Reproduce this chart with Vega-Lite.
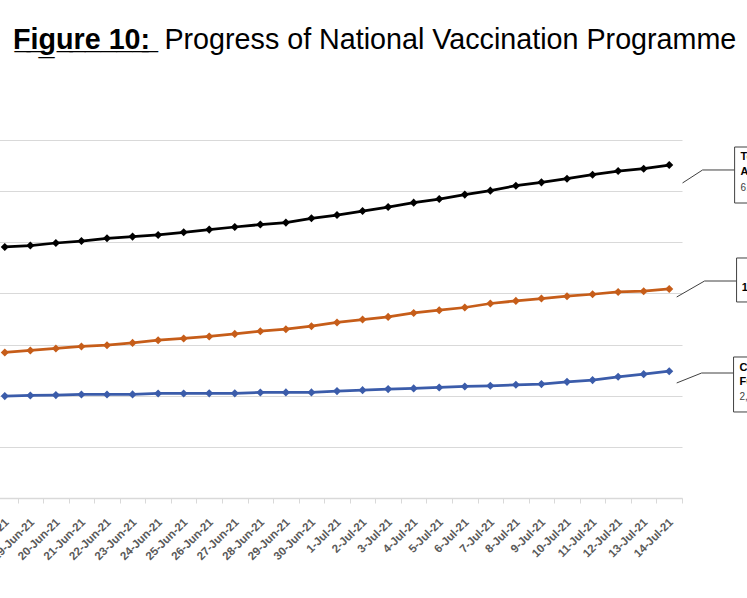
{
  "$schema": "https://vega.github.io/schema/vega-lite/v6.json",
  "width": 690,
  "height": 358,
  "autosize": {"type": "none"},
  "padding": {"left": -8, "top": 140, "right": 65, "bottom": 100},
  "background": "white",
  "title": {
    "text": "F\u0332i\u0332g\u0332u\u0332r\u0332e\u0332 \u03321\u03320\u0332:\u0332",
    "subtitle": "\u200b\u00a0\u00a0\u00a0\u00a0\u00a0\u00a0\u00a0\u00a0\u00a0\u00a0\u00a0\u00a0\u00a0\u00a0\u00a0\u00a0\u00a0\u00a0\u00a0Progress of National Vaccination Programme",
    "anchor": "start",
    "frame": "group",
    "dx": 21,
    "offset": 80,
    "font": "Liberation Sans",
    "fontSize": 28.7,
    "fontWeight": "bold",
    "color": "#000000",
    "subtitleFont": "Liberation Sans",
    "subtitleFontSize": 28.7,
    "subtitleFontWeight": "normal",
    "subtitleColor": "#000000",
    "subtitlePadding": -28.7
  },
  "datasets": {
    "progress": [
      {"date": "2021-06-18T00:00:00", "total": 4908000, "first": 2846000, "second": 1992000},
      {"date": "2021-06-19T00:00:00", "total": 4936000, "first": 2885000, "second": 2006000},
      {"date": "2021-06-20T00:00:00", "total": 4986000, "first": 2924000, "second": 2012000},
      {"date": "2021-06-21T00:00:00", "total": 5025000, "first": 2963000, "second": 2025000},
      {"date": "2021-06-22T00:00:00", "total": 5078000, "first": 2988000, "second": 2025000},
      {"date": "2021-06-23T00:00:00", "total": 5111000, "first": 3033000, "second": 2026000},
      {"date": "2021-06-24T00:00:00", "total": 5143000, "first": 3086000, "second": 2045000},
      {"date": "2021-06-25T00:00:00", "total": 5195000, "first": 3119000, "second": 2045000},
      {"date": "2021-06-26T00:00:00", "total": 5248000, "first": 3158000, "second": 2046000},
      {"date": "2021-06-27T00:00:00", "total": 5299000, "first": 3209000, "second": 2046000},
      {"date": "2021-06-28T00:00:00", "total": 5346000, "first": 3262000, "second": 2064000},
      {"date": "2021-06-29T00:00:00", "total": 5385000, "first": 3301000, "second": 2065000},
      {"date": "2021-06-30T00:00:00", "total": 5469000, "first": 3359000, "second": 2065000},
      {"date": "2021-07-01T00:00:00", "total": 5533000, "first": 3432000, "second": 2090000},
      {"date": "2021-07-02T00:00:00", "total": 5611000, "first": 3490000, "second": 2109000},
      {"date": "2021-07-03T00:00:00", "total": 5689000, "first": 3541000, "second": 2129000},
      {"date": "2021-07-04T00:00:00", "total": 5775000, "first": 3619000, "second": 2143000},
      {"date": "2021-07-05T00:00:00", "total": 5846000, "first": 3672000, "second": 2162000},
      {"date": "2021-07-06T00:00:00", "total": 5932000, "first": 3725000, "second": 2182000},
      {"date": "2021-07-07T00:00:00", "total": 6010000, "first": 3803000, "second": 2193000},
      {"date": "2021-07-08T00:00:00", "total": 6107000, "first": 3854000, "second": 2213000},
      {"date": "2021-07-09T00:00:00", "total": 6172000, "first": 3900000, "second": 2227000},
      {"date": "2021-07-10T00:00:00", "total": 6244000, "first": 3945000, "second": 2271000},
      {"date": "2021-07-11T00:00:00", "total": 6322000, "first": 3984000, "second": 2305000},
      {"date": "2021-07-12T00:00:00", "total": 6393000, "first": 4029000, "second": 2369000},
      {"date": "2021-07-13T00:00:00", "total": 6439000, "first": 4043000, "second": 2422000},
      {"date": "2021-07-14T00:00:00", "total": 6510000, "first": 4088000, "second": 2480000}
    ],
    "leaders": [
      {"series": "total", "step": 1, "date": "2021-07-14T12:30:00", "value": 6160000},
      {"series": "total", "step": 2, "date": "2021-07-15T07:20:00", "value": 6414000},
      {"series": "total", "step": 3, "date": "2021-07-16T13:25:00", "value": 6414000},
      {"series": "first", "step": 1, "date": "2021-07-14T07:00:00", "value": 3930000},
      {"series": "first", "step": 2, "date": "2021-07-15T09:10:00", "value": 4243000},
      {"series": "first", "step": 3, "date": "2021-07-16T15:15:00", "value": 4243000},
      {"series": "second", "step": 1, "date": "2021-07-14T07:00:00", "value": 2249000},
      {"series": "second", "step": 2, "date": "2021-07-15T06:25:00", "value": 2444000},
      {"series": "second", "step": 3, "date": "2021-07-16T12:25:00", "value": 2444000}
    ],
    "boxes": [
      {"series": "total", "date": "2021-07-16T13:25:00", "date_end": "2021-07-20T00:00:00", "value": 6863000, "value_end": 5768000},
      {"series": "first", "date": "2021-07-16T15:15:00", "date_end": "2021-07-20T00:00:00", "value": 4693000, "value_end": 3833000},
      {"series": "second", "date": "2021-07-16T12:25:00", "date_end": "2021-07-20T00:00:00", "value": 2757000, "value_end": 1682000}
    ],
    "notes": [
      {"series": "total", "kind": "head", "date": "2021-07-16T19:00:00", "value": 6668000, "text": "Total Doses"},
      {"series": "total", "kind": "head", "date": "2021-07-16T19:00:00", "value": 6375000, "text": "Administered"},
      {"series": "total", "kind": "figure", "date": "2021-07-16T19:00:00", "value": 6062000, "text": "6,510,437"},
      {"series": "first", "kind": "head", "date": "2021-07-16T20:00:00", "value": 4106000, "text": "1st Dose: 4,088,216"},
      {"series": "second", "kind": "head", "date": "2021-07-16T18:00:00", "value": 2542000, "text": "Citizens"},
      {"series": "second", "kind": "head", "date": "2021-07-16T18:00:00", "value": 2268000, "text": "Fully Vaccinated"},
      {"series": "second", "kind": "figure", "date": "2021-07-16T18:00:00", "value": 1975000, "text": "2,480,174"}
    ]
  },
  "encoding": {
    "x": {
      "field": "date",
      "type": "temporal",
      "title": null,
      "scale": {
        "domain": [
          {"year": 2021, "month": 6, "date": 17, "hours": 12},
          {"year": 2021, "month": 7, "date": 14, "hours": 12}
        ]
      },
      "axis": {
        "format": "%-d-%b-%y",
        "tickCount": {"interval": "day", "step": 1},
        "labelAngle": -45,
        "labelFont": "Liberation Sans",
        "labelFontSize": 11.5,
        "labelFontWeight": "bold",
        "labelColor": "#595959",
        "labelPadding": 13,
        "labelOverlap": false,
        "labelFlush": false,
        "tickOffset": 12.78,
        "labelOffset": -15,
        "tickColor": "#d9d9d9",
        "tickSize": 5,
        "tickWidth": 1,
        "domainColor": "#d9d9d9",
        "domainWidth": 1.5,
        "grid": false
      }
    },
    "y": {
      "field": "value",
      "type": "quantitative",
      "title": null,
      "scale": {"domain": [0, 7000000], "nice": false},
      "axis": {
        "tickCount": 7,
        "format": ",",
        "domain": false,
        "ticks": false,
        "grid": true,
        "gridColor": "#d9d9d9",
        "gridWidth": 1,
        "labelColor": "#595959",
        "labelFont": "Liberation Sans"
      }
    }
  },
  "layer": [
    {
      "data": {"name": "progress"},
      "transform": [
        {"fold": ["total", "first", "second"], "as": ["series", "value"]}
      ],
      "mark": {
        "type": "line",
        "strokeWidth": 2.75,
        "point": {"shape": "diamond", "filled": true, "size": 65}
      },
      "encoding": {
        "color": {
          "field": "series",
          "type": "nominal",
          "scale": {
            "domain": ["total", "first", "second"],
            "range": ["#000000", "#c65d19", "#3b5caa"]
          },
          "legend": null
        }
      }
    },
    {
      "data": {"name": "leaders"},
      "mark": {"type": "line", "color": "#404040", "strokeWidth": 1},
      "encoding": {
        "detail": {"field": "series", "type": "nominal"},
        "order": {"field": "step", "type": "quantitative"}
      }
    },
    {
      "data": {"name": "boxes"},
      "mark": {"type": "rect", "fill": "white", "stroke": "#404040", "strokeWidth": 1},
      "encoding": {
        "x2": {"field": "date_end"},
        "y2": {"field": "value_end"}
      }
    },
    {
      "data": {"name": "notes"},
      "transform": [{"filter": "datum.kind == 'head'"}],
      "mark": {"type": "text", "align": "left", "baseline": "middle", "font": "Liberation Sans", "fontSize": 11, "fontWeight": "bold", "color": "#000000"},
      "encoding": {"text": {"field": "text"}}
    },
    {
      "data": {"name": "notes"},
      "transform": [{"filter": "datum.kind == 'figure'"}],
      "mark": {"type": "text", "align": "left", "baseline": "middle", "font": "Liberation Sans", "fontSize": 10, "color": "#404040"},
      "encoding": {"text": {"field": "text"}}
    }
  ],
  "config": {
    "view": {"stroke": null},
    "font": "Liberation Sans"
  }
}
